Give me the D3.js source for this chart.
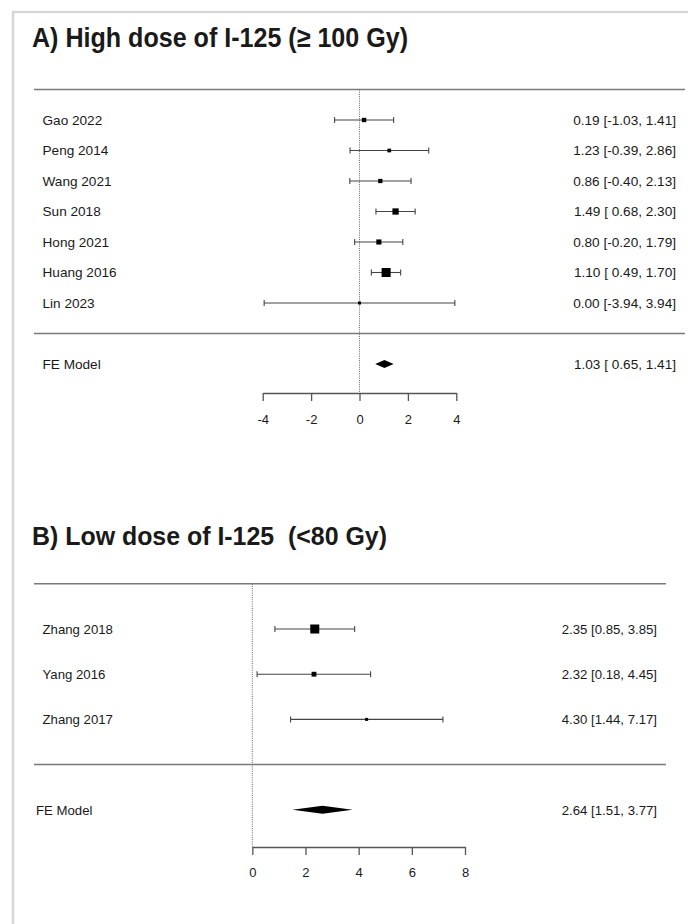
<!DOCTYPE html>
<html>
<head>
<meta charset="utf-8">
<script src="https://cdn.jsdelivr.net/npm/d3@7"></script>
<style>
  html, body { margin: 0; padding: 0; background: #fff; }
  svg { display: block; }
  text { font-family: "Liberation Sans", Arial, Helvetica, sans-serif; fill: #1a1a1a; white-space: pre; }
</style>
</head>
<body>
<svg id="chart" width="688" height="924"></svg>
<script>
// ---- Panel A: high dose (>= 100 Gy) ----
const studiesA = ["Gao 2022", "Peng 2014", "Wang 2021", "Sun 2018", "Hong 2021", "Huang 2016", "Lin 2023"];
const estA   = [0.19, 1.23, 0.86, 1.49, 0.80, 1.10, 0.00];
const lowerA = [-1.03, -0.39, -0.40, 0.68, -0.20, 0.49, -3.94];
const upperA = [1.41, 2.86, 2.13, 2.30, 1.79, 1.70, 3.94];
const pooledA = {label: "FE Model", est: 1.03, lb: 0.65, ub: 1.41};
const ticksA = [-4, -2, 0, 2, 4];

// ---- Panel B: low dose (< 80 Gy) ----
const studiesB = ["Zhang 2018", "Yang 2016", "Zhang 2017"];
const estB   = [2.35, 2.32, 4.30];
const lowerB = [0.85, 0.18, 1.44];
const upperB = [3.85, 4.45, 7.17];
const pooledB = {label: "FE Model", est: 2.64, lb: 1.51, ub: 3.77};
const ticksB = [0, 2, 4, 6, 8];

const svg = d3.select("#chart");

// light frame along the top and left edges
svg.append("line").attr("x1", 12).attr("x2", 688).attr("y1", 12).attr("y2", 12)
  .attr("stroke", "#d6d6d6").attr("stroke-width", 2.5);
svg.append("line").attr("x1", 13).attr("x2", 13).attr("y1", 11).attr("y2", 924)
  .attr("stroke", "#d6d6d6").attr("stroke-width", 2.5);

// plain hyphen for negatives, two decimals
const fmt = v => (v < 0 ? "-" : "") + Math.abs(v).toFixed(2);

function forest(cfg) {
  const g = svg.append("g");
  const k = cfg.studies.length;
  const x = d3.scaleLinear().domain(cfg.domain).range(cfg.xRange);
  // row units: studies at k..1, separator at 0, pooled at -1
  const y = d3.scaleLinear().domain([k, 1]).range(cfg.yRange);

  // lower bounds share one width when any of them is negative
  const padLower = d3.min(cfg.lower) < 0;
  const ciText = (e, l, u) =>
    fmt(e) + " [" + (padLower && l >= 0 ? " " : "") + fmt(l) + ", " + fmt(u) + "]";

  // square sizes follow inverse-variance weights, scaled to 0.5..1.5
  const w = cfg.studies.map((_, i) => {
    const se = (cfg.upper[i] - cfg.lower[i]) / (2 * 1.96);
    return 1 / (se * se);
  });
  const wMin = d3.min(w), wMax = d3.max(w);
  const cex = w.map(v => 0.5 + (v - wMin) / (wMax - wMin));

  // title
  g.append("text").attr("x", 32).attr("y", cfg.titleY)
    .attr("font-size", cfg.titleSize).attr("font-weight", "bold").attr("fill", "#111")
    .attr("textLength", cfg.titleLen)
    .attr("lengthAdjust", "spacingAndGlyphs")
    .text(cfg.title);

  // horizontal rules
  [k + 1, 0].forEach(r => {
    g.append("line").attr("x1", 34).attr("x2", cfg.ruleEnd)
      .attr("y1", y(r)).attr("y2", y(r))
      .attr("stroke", "#7a7a7a").attr("stroke-width", 1.5);
  });

  // reference line at zero
  g.append("line").attr("x1", x(0)).attr("x2", x(0))
    .attr("y1", y(k + 1)).attr("y2", cfg.axisY)
    .attr("stroke", "#666").attr("stroke-width", 1).attr("stroke-dasharray", "1,1.2");

  // study rows
  cfg.studies.forEach((name, i) => {
    const yy = y(k - i);
    g.append("text").attr("x", 42.5).attr("y", yy).attr("dy", "0.36em")
      .attr("font-size", cfg.labelSize).text(name);
    g.append("line").attr("x1", x(cfg.lower[i])).attr("x2", x(cfg.upper[i]))
      .attr("y1", yy).attr("y2", yy).attr("stroke", "#444").attr("stroke-width", 1.1);
    [cfg.lower[i], cfg.upper[i]].forEach(v => {
      g.append("line").attr("x1", x(v)).attr("x2", x(v))
        .attr("y1", yy - 3).attr("y2", yy + 3).attr("stroke", "#444").attr("stroke-width", 1.1);
    });
    const s = 6 * cex[i];
    g.append("rect").attr("x", x(cfg.est[i]) - s / 2).attr("y", yy - s / 2)
      .attr("width", s).attr("height", s).attr("fill", "#000");
    g.append("text").attr("x", cfg.annoX).attr("y", yy).attr("dy", "0.36em")
      .attr("text-anchor", "end").attr("font-size", cfg.annoSize)
      .text(ciText(cfg.est[i], cfg.lower[i], cfg.upper[i]));
  });

  // pooled estimate
  const p = cfg.pooled, py = y(-1);
  g.append("text").attr("x", cfg.pooledLabelX).attr("y", py).attr("dy", "0.36em")
    .attr("font-size", cfg.labelSize).text(p.label);
  g.append("polygon")
    .attr("points", [[x(p.lb), py], [x(p.est), py - 4], [x(p.ub), py], [x(p.est), py + 4]].join(" "))
    .attr("fill", "#000");
  g.append("text").attr("x", cfg.annoX).attr("y", py).attr("dy", "0.36em")
    .attr("text-anchor", "end").attr("font-size", cfg.annoSize)
    .text(ciText(p.est, p.lb, p.ub));

  // x axis
  const axis = g.append("g").attr("transform", `translate(0,${cfg.axisY})`)
    .call(d3.axisBottom(x).tickValues(cfg.ticks).tickFormat(d => (d < 0 ? "-" : "") + Math.abs(d))
      .tickSizeInner(8).tickSizeOuter(0).tickPadding(cfg.tickPad));
  axis.select(".domain").attr("stroke", "#555").attr("stroke-width", 1.3);
  axis.selectAll(".tick line").attr("stroke", "#555").attr("stroke-width", 1.3);
  axis.selectAll(".tick text").attr("font-size", 13)
    .attr("font-family", "Liberation Sans, Arial, sans-serif").attr("fill", "#1a1a1a");
}

forest({
  title: "A) High dose of I-125 (\u2265 100 Gy)", titleY: 47, titleSize: 28, titleLen: 376,
  studies: studiesA, est: estA, lower: lowerA, upper: upperA, pooled: pooledA,
  ticks: ticksA, domain: [-4, 4], xRange: [262.7, 456.3],
  yRange: [120, 303], ruleEnd: 685, axisY: 393, tickPad: 14,
  labelSize: 13.6, annoSize: 13.6, annoX: 676, pooledLabelX: 42.5
});

forest({
  title: "B) Low dose of I-125  (<80 Gy)", titleY: 545, titleSize: 25, titleLen: 355,
  studies: studiesB, est: estB, lower: lowerB, upper: upperB, pooled: pooledB,
  ticks: ticksB, domain: [0, 8], xRange: [252.3, 465],
  yRange: [629, 719.4], ruleEnd: 666, axisY: 847, tickPad: 12.5,
  labelSize: 13.2, annoSize: 13.2, annoX: 657, pooledLabelX: 36
});
</script>
</body>
</html>
